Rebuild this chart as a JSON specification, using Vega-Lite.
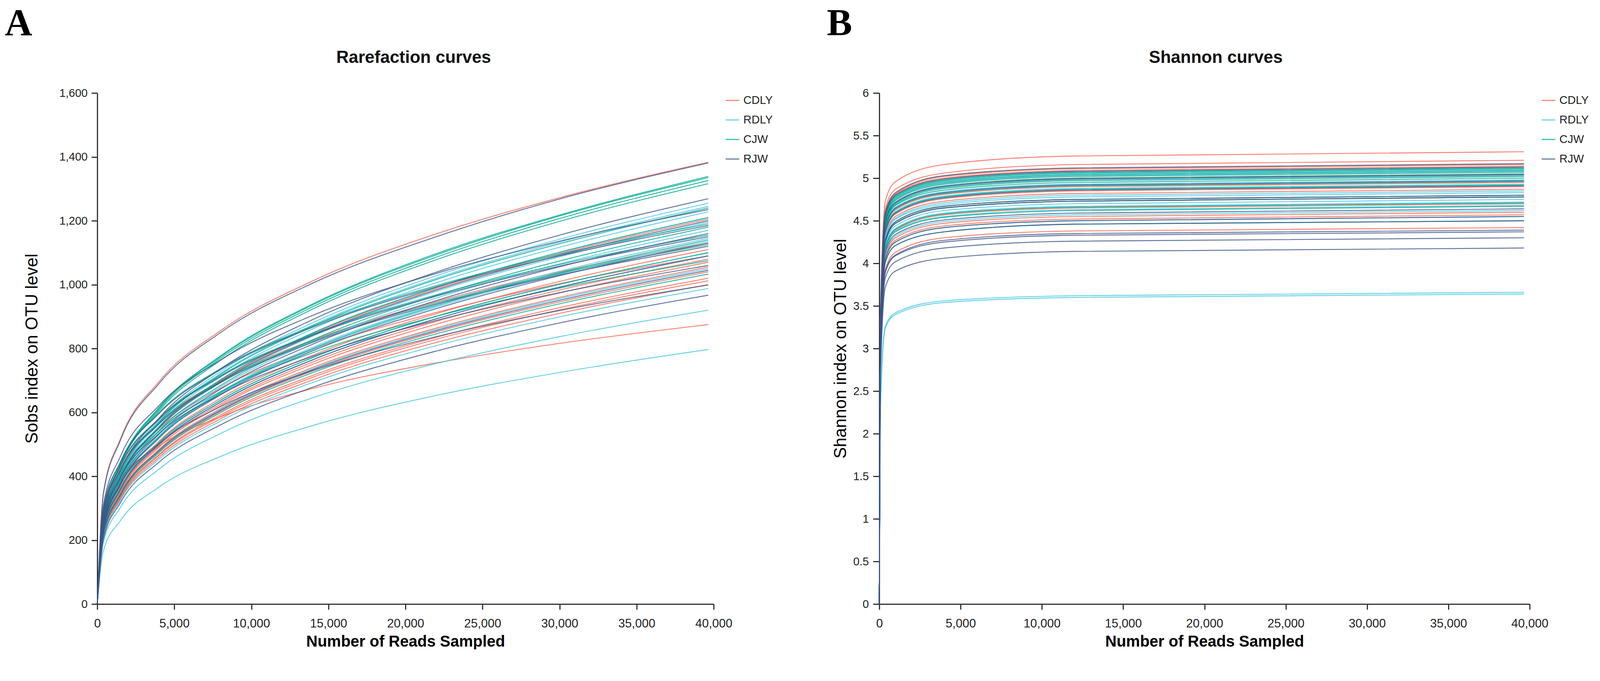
{
"$schema": "https://vega.github.io/schema/vega-lite/v6.json",
"background": "white",
"padding": {"left": 12, "top": 12, "right": 0, "bottom": 0},
"spacing": 137,
"config": {
  "view": {"stroke": null},
  "font": "Liberation Sans",
  "axis": {"domainColor": "#333", "domainWidth": 3, "tickColor": "#333", "tickWidth": 3, "labelColor": "#222", "labelFont": "Liberation Sans", "titleFont": "Liberation Sans", "titleColor": "#000", "grid": false},
  "legend": {"orient": "right", "offset": 29, "symbolType": "stroke", "symbolSize": 1225, "symbolStrokeWidth": 3, "symbolOpacity": 0.75, "labelFontSize": 29, "labelFont": "Liberation Sans", "labelColor": "#222", "rowPadding": 16, "labelOffset": 9, "padding": 0, "labelLimit": 200}
},
"resolve": {"scale": {"color": "independent"}, "legend": {"color": "independent"}},
"datasets": {
"rare": [
{"s":"C1","g":"CDLY","x":0,"y":0},{"s":"C1","g":"CDLY","x":400,"y":349},{"s":"C1","g":"CDLY","x":1500,"y":517},{"s":"C1","g":"CDLY","x":4000,"y":696},{"s":"C1","g":"CDLY","x":8000,"y":856},{"s":"C1","g":"CDLY","x":14000,"y":1012},{"s":"C1","g":"CDLY","x":22000,"y":1159},{"s":"C1","g":"CDLY","x":30000,"y":1272},{"s":"C1","g":"CDLY","x":39650,"y":1383},
{"s":"C2","g":"CDLY","x":0,"y":0},{"s":"C2","g":"CDLY","x":400,"y":253},{"s":"C2","g":"CDLY","x":1500,"y":395},{"s":"C2","g":"CDLY","x":4000,"y":553},{"s":"C2","g":"CDLY","x":8000,"y":699},{"s":"C2","g":"CDLY","x":14000,"y":846},{"s":"C2","g":"CDLY","x":22000,"y":987},{"s":"C2","g":"CDLY","x":30000,"y":1097},{"s":"C2","g":"CDLY","x":39650,"y":1205},
{"s":"C3","g":"CDLY","x":0,"y":0},{"s":"C3","g":"CDLY","x":400,"y":285},{"s":"C3","g":"CDLY","x":1500,"y":423},{"s":"C3","g":"CDLY","x":4000,"y":568},{"s":"C3","g":"CDLY","x":8000,"y":699},{"s":"C3","g":"CDLY","x":14000,"y":827},{"s":"C3","g":"CDLY","x":22000,"y":947},{"s":"C3","g":"CDLY","x":30000,"y":1040},{"s":"C3","g":"CDLY","x":39650,"y":1130},
{"s":"C4","g":"CDLY","x":0,"y":0},{"s":"C4","g":"CDLY","x":400,"y":233},{"s":"C4","g":"CDLY","x":1500,"y":364},{"s":"C4","g":"CDLY","x":4000,"y":509},{"s":"C4","g":"CDLY","x":8000,"y":644},{"s":"C4","g":"CDLY","x":14000,"y":779},{"s":"C4","g":"CDLY","x":22000,"y":909},{"s":"C4","g":"CDLY","x":30000,"y":1010},{"s":"C4","g":"CDLY","x":39650,"y":1110},
{"s":"C5","g":"CDLY","x":0,"y":0},{"s":"C5","g":"CDLY","x":400,"y":275},{"s":"C5","g":"CDLY","x":1500,"y":408},{"s":"C5","g":"CDLY","x":4000,"y":548},{"s":"C5","g":"CDLY","x":8000,"y":675},{"s":"C5","g":"CDLY","x":14000,"y":798},{"s":"C5","g":"CDLY","x":22000,"y":913},{"s":"C5","g":"CDLY","x":30000,"y":1003},{"s":"C5","g":"CDLY","x":39650,"y":1090},
{"s":"C6","g":"CDLY","x":0,"y":0},{"s":"C6","g":"CDLY","x":400,"y":227},{"s":"C6","g":"CDLY","x":1500,"y":354},{"s":"C6","g":"CDLY","x":4000,"y":496},{"s":"C6","g":"CDLY","x":8000,"y":626},{"s":"C6","g":"CDLY","x":14000,"y":758},{"s":"C6","g":"CDLY","x":22000,"y":885},{"s":"C6","g":"CDLY","x":30000,"y":983},{"s":"C6","g":"CDLY","x":39650,"y":1080},
{"s":"C7","g":"CDLY","x":0,"y":0},{"s":"C7","g":"CDLY","x":400,"y":225},{"s":"C7","g":"CDLY","x":1500,"y":351},{"s":"C7","g":"CDLY","x":4000,"y":491},{"s":"C7","g":"CDLY","x":8000,"y":621},{"s":"C7","g":"CDLY","x":14000,"y":751},{"s":"C7","g":"CDLY","x":22000,"y":876},{"s":"C7","g":"CDLY","x":30000,"y":974},{"s":"C7","g":"CDLY","x":39650,"y":1070},
{"s":"C8","g":"CDLY","x":0,"y":0},{"s":"C8","g":"CDLY","x":400,"y":222},{"s":"C8","g":"CDLY","x":1500,"y":346},{"s":"C8","g":"CDLY","x":4000,"y":484},{"s":"C8","g":"CDLY","x":8000,"y":612},{"s":"C8","g":"CDLY","x":14000,"y":741},{"s":"C8","g":"CDLY","x":22000,"y":864},{"s":"C8","g":"CDLY","x":30000,"y":960},{"s":"C8","g":"CDLY","x":39650,"y":1055},
{"s":"C9","g":"CDLY","x":0,"y":0},{"s":"C9","g":"CDLY","x":400,"y":218},{"s":"C9","g":"CDLY","x":1500,"y":341},{"s":"C9","g":"CDLY","x":4000,"y":477},{"s":"C9","g":"CDLY","x":8000,"y":603},{"s":"C9","g":"CDLY","x":14000,"y":730},{"s":"C9","g":"CDLY","x":22000,"y":852},{"s":"C9","g":"CDLY","x":30000,"y":946},{"s":"C9","g":"CDLY","x":39650,"y":1040},
{"s":"C10","g":"CDLY","x":0,"y":0},{"s":"C10","g":"CDLY","x":400,"y":214},{"s":"C10","g":"CDLY","x":1500,"y":335},{"s":"C10","g":"CDLY","x":4000,"y":468},{"s":"C10","g":"CDLY","x":8000,"y":592},{"s":"C10","g":"CDLY","x":14000,"y":716},{"s":"C10","g":"CDLY","x":22000,"y":835},{"s":"C10","g":"CDLY","x":30000,"y":928},{"s":"C10","g":"CDLY","x":39650,"y":1020},
{"s":"C11","g":"CDLY","x":0,"y":0},{"s":"C11","g":"CDLY","x":400,"y":213},{"s":"C11","g":"CDLY","x":1500,"y":332},{"s":"C11","g":"CDLY","x":4000,"y":465},{"s":"C11","g":"CDLY","x":8000,"y":587},{"s":"C11","g":"CDLY","x":14000,"y":710},{"s":"C11","g":"CDLY","x":22000,"y":829},{"s":"C11","g":"CDLY","x":30000,"y":921},{"s":"C11","g":"CDLY","x":39650,"y":1012},
{"s":"C12","g":"CDLY","x":0,"y":0},{"s":"C12","g":"CDLY","x":400,"y":210},{"s":"C12","g":"CDLY","x":1500,"y":328},{"s":"C12","g":"CDLY","x":4000,"y":459},{"s":"C12","g":"CDLY","x":8000,"y":580},{"s":"C12","g":"CDLY","x":14000,"y":702},{"s":"C12","g":"CDLY","x":22000,"y":819},{"s":"C12","g":"CDLY","x":30000,"y":910},{"s":"C12","g":"CDLY","x":39650,"y":1000},
{"s":"C13","g":"CDLY","x":0,"y":0},{"s":"C13","g":"CDLY","x":400,"y":277},{"s":"C13","g":"CDLY","x":1500,"y":386},{"s":"C13","g":"CDLY","x":4000,"y":494},{"s":"C13","g":"CDLY","x":8000,"y":586},{"s":"C13","g":"CDLY","x":14000,"y":675},{"s":"C13","g":"CDLY","x":22000,"y":755},{"s":"C13","g":"CDLY","x":30000,"y":816},{"s":"C13","g":"CDLY","x":39650,"y":875},
{"s":"R1","g":"RDLY","x":0,"y":0},{"s":"R1","g":"RDLY","x":400,"y":264},{"s":"R1","g":"RDLY","x":1500,"y":412},{"s":"R1","g":"RDLY","x":4000,"y":576},{"s":"R1","g":"RDLY","x":8000,"y":728},{"s":"R1","g":"RDLY","x":14000,"y":881},{"s":"R1","g":"RDLY","x":22000,"y":1028},{"s":"R1","g":"RDLY","x":30000,"y":1142},{"s":"R1","g":"RDLY","x":39650,"y":1255},
{"s":"R2","g":"RDLY","x":0,"y":0},{"s":"R2","g":"RDLY","x":400,"y":261},{"s":"R2","g":"RDLY","x":1500,"y":408},{"s":"R2","g":"RDLY","x":4000,"y":571},{"s":"R2","g":"RDLY","x":8000,"y":722},{"s":"R2","g":"RDLY","x":14000,"y":874},{"s":"R2","g":"RDLY","x":22000,"y":1020},{"s":"R2","g":"RDLY","x":30000,"y":1133},{"s":"R2","g":"RDLY","x":39650,"y":1245},
{"s":"R3","g":"RDLY","x":0,"y":0},{"s":"R3","g":"RDLY","x":400,"y":258},{"s":"R3","g":"RDLY","x":1500,"y":403},{"s":"R3","g":"RDLY","x":4000,"y":564},{"s":"R3","g":"RDLY","x":8000,"y":712},{"s":"R3","g":"RDLY","x":14000,"y":862},{"s":"R3","g":"RDLY","x":22000,"y":1006},{"s":"R3","g":"RDLY","x":30000,"y":1117},{"s":"R3","g":"RDLY","x":39650,"y":1228},
{"s":"R4","g":"RDLY","x":0,"y":0},{"s":"R4","g":"RDLY","x":400,"y":254},{"s":"R4","g":"RDLY","x":1500,"y":397},{"s":"R4","g":"RDLY","x":4000,"y":555},{"s":"R4","g":"RDLY","x":8000,"y":702},{"s":"R4","g":"RDLY","x":14000,"y":849},{"s":"R4","g":"RDLY","x":22000,"y":991},{"s":"R4","g":"RDLY","x":30000,"y":1101},{"s":"R4","g":"RDLY","x":39650,"y":1210},
{"s":"R5","g":"RDLY","x":0,"y":0},{"s":"R5","g":"RDLY","x":400,"y":251},{"s":"R5","g":"RDLY","x":1500,"y":392},{"s":"R5","g":"RDLY","x":4000,"y":549},{"s":"R5","g":"RDLY","x":8000,"y":693},{"s":"R5","g":"RDLY","x":14000,"y":839},{"s":"R5","g":"RDLY","x":22000,"y":979},{"s":"R5","g":"RDLY","x":30000,"y":1087},{"s":"R5","g":"RDLY","x":39650,"y":1195},
{"s":"R6","g":"RDLY","x":0,"y":0},{"s":"R6","g":"RDLY","x":400,"y":246},{"s":"R6","g":"RDLY","x":1500,"y":384},{"s":"R6","g":"RDLY","x":4000,"y":537},{"s":"R6","g":"RDLY","x":8000,"y":679},{"s":"R6","g":"RDLY","x":14000,"y":821},{"s":"R6","g":"RDLY","x":22000,"y":958},{"s":"R6","g":"RDLY","x":30000,"y":1065},{"s":"R6","g":"RDLY","x":39650,"y":1170},
{"s":"R7","g":"RDLY","x":0,"y":0},{"s":"R7","g":"RDLY","x":400,"y":240},{"s":"R7","g":"RDLY","x":1500,"y":376},{"s":"R7","g":"RDLY","x":4000,"y":526},{"s":"R7","g":"RDLY","x":8000,"y":664},{"s":"R7","g":"RDLY","x":14000,"y":804},{"s":"R7","g":"RDLY","x":22000,"y":938},{"s":"R7","g":"RDLY","x":30000,"y":1042},{"s":"R7","g":"RDLY","x":39650,"y":1145},
{"s":"R8","g":"RDLY","x":0,"y":0},{"s":"R8","g":"RDLY","x":400,"y":238},{"s":"R8","g":"RDLY","x":1500,"y":372},{"s":"R8","g":"RDLY","x":4000,"y":521},{"s":"R8","g":"RDLY","x":8000,"y":658},{"s":"R8","g":"RDLY","x":14000,"y":797},{"s":"R8","g":"RDLY","x":22000,"y":930},{"s":"R8","g":"RDLY","x":30000,"y":1033},{"s":"R8","g":"RDLY","x":39650,"y":1135},
{"s":"R9","g":"RDLY","x":0,"y":0},{"s":"R9","g":"RDLY","x":400,"y":231},{"s":"R9","g":"RDLY","x":1500,"y":361},{"s":"R9","g":"RDLY","x":4000,"y":505},{"s":"R9","g":"RDLY","x":8000,"y":638},{"s":"R9","g":"RDLY","x":14000,"y":772},{"s":"R9","g":"RDLY","x":22000,"y":901},{"s":"R9","g":"RDLY","x":30000,"y":1001},{"s":"R9","g":"RDLY","x":39650,"y":1100},
{"s":"R10","g":"RDLY","x":0,"y":0},{"s":"R10","g":"RDLY","x":400,"y":229},{"s":"R10","g":"RDLY","x":1500,"y":358},{"s":"R10","g":"RDLY","x":4000,"y":500},{"s":"R10","g":"RDLY","x":8000,"y":632},{"s":"R10","g":"RDLY","x":14000,"y":765},{"s":"R10","g":"RDLY","x":22000,"y":893},{"s":"R10","g":"RDLY","x":30000,"y":992},{"s":"R10","g":"RDLY","x":39650,"y":1090},
{"s":"R11","g":"RDLY","x":0,"y":0},{"s":"R11","g":"RDLY","x":400,"y":221},{"s":"R11","g":"RDLY","x":1500,"y":344},{"s":"R11","g":"RDLY","x":4000,"y":482},{"s":"R11","g":"RDLY","x":8000,"y":609},{"s":"R11","g":"RDLY","x":14000,"y":737},{"s":"R11","g":"RDLY","x":22000,"y":860},{"s":"R11","g":"RDLY","x":30000,"y":956},{"s":"R11","g":"RDLY","x":39650,"y":1050},
{"s":"R12","g":"RDLY","x":0,"y":0},{"s":"R12","g":"RDLY","x":400,"y":207},{"s":"R12","g":"RDLY","x":1500,"y":324},{"s":"R12","g":"RDLY","x":4000,"y":453},{"s":"R12","g":"RDLY","x":8000,"y":573},{"s":"R12","g":"RDLY","x":14000,"y":694},{"s":"R12","g":"RDLY","x":22000,"y":809},{"s":"R12","g":"RDLY","x":30000,"y":899},{"s":"R12","g":"RDLY","x":39650,"y":988},
{"s":"R13","g":"RDLY","x":0,"y":0},{"s":"R13","g":"RDLY","x":400,"y":193},{"s":"R13","g":"RDLY","x":1500,"y":302},{"s":"R13","g":"RDLY","x":4000,"y":422},{"s":"R13","g":"RDLY","x":8000,"y":534},{"s":"R13","g":"RDLY","x":14000,"y":646},{"s":"R13","g":"RDLY","x":22000,"y":753},{"s":"R13","g":"RDLY","x":30000,"y":837},{"s":"R13","g":"RDLY","x":39650,"y":920},
{"s":"R14","g":"RDLY","x":0,"y":0},{"s":"R14","g":"RDLY","x":400,"y":167},{"s":"R14","g":"RDLY","x":1500,"y":261},{"s":"R14","g":"RDLY","x":4000,"y":366},{"s":"R14","g":"RDLY","x":8000,"y":462},{"s":"R14","g":"RDLY","x":14000,"y":559},{"s":"R14","g":"RDLY","x":22000,"y":653},{"s":"R14","g":"RDLY","x":30000,"y":725},{"s":"R14","g":"RDLY","x":39650,"y":797},
{"s":"J1","g":"CJW","x":0,"y":0},{"s":"J1","g":"CJW","x":400,"y":281},{"s":"J1","g":"CJW","x":1500,"y":439},{"s":"J1","g":"CJW","x":4000,"y":615},{"s":"J1","g":"CJW","x":8000,"y":777},{"s":"J1","g":"CJW","x":14000,"y":940},{"s":"J1","g":"CJW","x":22000,"y":1097},{"s":"J1","g":"CJW","x":30000,"y":1218},{"s":"J1","g":"CJW","x":39650,"y":1339},
{"s":"J2","g":"CJW","x":0,"y":0},{"s":"J2","g":"CJW","x":400,"y":280},{"s":"J2","g":"CJW","x":1500,"y":438},{"s":"J2","g":"CJW","x":4000,"y":613},{"s":"J2","g":"CJW","x":8000,"y":774},{"s":"J2","g":"CJW","x":14000,"y":937},{"s":"J2","g":"CJW","x":22000,"y":1093},{"s":"J2","g":"CJW","x":30000,"y":1215},{"s":"J2","g":"CJW","x":39650,"y":1335},
{"s":"J3","g":"CJW","x":0,"y":0},{"s":"J3","g":"CJW","x":400,"y":278},{"s":"J3","g":"CJW","x":1500,"y":435},{"s":"J3","g":"CJW","x":4000,"y":609},{"s":"J3","g":"CJW","x":8000,"y":769},{"s":"J3","g":"CJW","x":14000,"y":931},{"s":"J3","g":"CJW","x":22000,"y":1086},{"s":"J3","g":"CJW","x":30000,"y":1207},{"s":"J3","g":"CJW","x":39650,"y":1326},
{"s":"J4","g":"CJW","x":0,"y":0},{"s":"J4","g":"CJW","x":400,"y":276},{"s":"J4","g":"CJW","x":1500,"y":432},{"s":"J4","g":"CJW","x":4000,"y":604},{"s":"J4","g":"CJW","x":8000,"y":763},{"s":"J4","g":"CJW","x":14000,"y":924},{"s":"J4","g":"CJW","x":22000,"y":1078},{"s":"J4","g":"CJW","x":30000,"y":1198},{"s":"J4","g":"CJW","x":39650,"y":1316},
{"s":"J5","g":"CJW","x":0,"y":0},{"s":"J5","g":"CJW","x":400,"y":260},{"s":"J5","g":"CJW","x":1500,"y":407},{"s":"J5","g":"CJW","x":4000,"y":569},{"s":"J5","g":"CJW","x":8000,"y":719},{"s":"J5","g":"CJW","x":14000,"y":870},{"s":"J5","g":"CJW","x":22000,"y":1016},{"s":"J5","g":"CJW","x":30000,"y":1128},{"s":"J5","g":"CJW","x":39650,"y":1240},
{"s":"J6","g":"CJW","x":0,"y":0},{"s":"J6","g":"CJW","x":400,"y":254},{"s":"J6","g":"CJW","x":1500,"y":397},{"s":"J6","g":"CJW","x":4000,"y":555},{"s":"J6","g":"CJW","x":8000,"y":702},{"s":"J6","g":"CJW","x":14000,"y":849},{"s":"J6","g":"CJW","x":22000,"y":991},{"s":"J6","g":"CJW","x":30000,"y":1101},{"s":"J6","g":"CJW","x":39650,"y":1210},
{"s":"J7","g":"CJW","x":0,"y":0},{"s":"J7","g":"CJW","x":400,"y":300},{"s":"J7","g":"CJW","x":1500,"y":445},{"s":"J7","g":"CJW","x":4000,"y":599},{"s":"J7","g":"CJW","x":8000,"y":737},{"s":"J7","g":"CJW","x":14000,"y":871},{"s":"J7","g":"CJW","x":22000,"y":997},{"s":"J7","g":"CJW","x":30000,"y":1095},{"s":"J7","g":"CJW","x":39650,"y":1190},
{"s":"J8","g":"CJW","x":0,"y":0},{"s":"J8","g":"CJW","x":400,"y":248},{"s":"J8","g":"CJW","x":1500,"y":387},{"s":"J8","g":"CJW","x":4000,"y":542},{"s":"J8","g":"CJW","x":8000,"y":684},{"s":"J8","g":"CJW","x":14000,"y":828},{"s":"J8","g":"CJW","x":22000,"y":966},{"s":"J8","g":"CJW","x":30000,"y":1074},{"s":"J8","g":"CJW","x":39650,"y":1180},
{"s":"J9","g":"CJW","x":0,"y":0},{"s":"J9","g":"CJW","x":400,"y":291},{"s":"J9","g":"CJW","x":1500,"y":432},{"s":"J9","g":"CJW","x":4000,"y":581},{"s":"J9","g":"CJW","x":8000,"y":715},{"s":"J9","g":"CJW","x":14000,"y":845},{"s":"J9","g":"CJW","x":22000,"y":968},{"s":"J9","g":"CJW","x":30000,"y":1063},{"s":"J9","g":"CJW","x":39650,"y":1155},
{"s":"J10","g":"CJW","x":0,"y":0},{"s":"J10","g":"CJW","x":400,"y":239},{"s":"J10","g":"CJW","x":1500,"y":374},{"s":"J10","g":"CJW","x":4000,"y":523},{"s":"J10","g":"CJW","x":8000,"y":661},{"s":"J10","g":"CJW","x":14000,"y":800},{"s":"J10","g":"CJW","x":22000,"y":934},{"s":"J10","g":"CJW","x":30000,"y":1037},{"s":"J10","g":"CJW","x":39650,"y":1140},
{"s":"J11","g":"CJW","x":0,"y":0},{"s":"J11","g":"CJW","x":400,"y":284},{"s":"J11","g":"CJW","x":1500,"y":421},{"s":"J11","g":"CJW","x":4000,"y":566},{"s":"J11","g":"CJW","x":8000,"y":696},{"s":"J11","g":"CJW","x":14000,"y":824},{"s":"J11","g":"CJW","x":22000,"y":943},{"s":"J11","g":"CJW","x":30000,"y":1035},{"s":"J11","g":"CJW","x":39650,"y":1125},
{"s":"J12","g":"CJW","x":0,"y":0},{"s":"J12","g":"CJW","x":400,"y":231},{"s":"J12","g":"CJW","x":1500,"y":361},{"s":"J12","g":"CJW","x":4000,"y":505},{"s":"J12","g":"CJW","x":8000,"y":638},{"s":"J12","g":"CJW","x":14000,"y":772},{"s":"J12","g":"CJW","x":22000,"y":901},{"s":"J12","g":"CJW","x":30000,"y":1001},{"s":"J12","g":"CJW","x":39650,"y":1100},
{"s":"J13","g":"CJW","x":0,"y":0},{"s":"J13","g":"CJW","x":400,"y":271},{"s":"J13","g":"CJW","x":1500,"y":402},{"s":"J13","g":"CJW","x":4000,"y":541},{"s":"J13","g":"CJW","x":8000,"y":665},{"s":"J13","g":"CJW","x":14000,"y":787},{"s":"J13","g":"CJW","x":22000,"y":901},{"s":"J13","g":"CJW","x":30000,"y":989},{"s":"J13","g":"CJW","x":39650,"y":1075},
{"s":"J14","g":"CJW","x":0,"y":0},{"s":"J14","g":"CJW","x":400,"y":217},{"s":"J14","g":"CJW","x":1500,"y":339},{"s":"J14","g":"CJW","x":4000,"y":474},{"s":"J14","g":"CJW","x":8000,"y":599},{"s":"J14","g":"CJW","x":14000,"y":725},{"s":"J14","g":"CJW","x":22000,"y":846},{"s":"J14","g":"CJW","x":30000,"y":940},{"s":"J14","g":"CJW","x":39650,"y":1033},
{"s":"W1","g":"RJW","x":0,"y":0},{"s":"W1","g":"RJW","x":400,"y":345},{"s":"W1","g":"RJW","x":1500,"y":512},{"s":"W1","g":"RJW","x":4000,"y":690},{"s":"W1","g":"RJW","x":8000,"y":850},{"s":"W1","g":"RJW","x":14000,"y":1005},{"s":"W1","g":"RJW","x":22000,"y":1150},{"s":"W1","g":"RJW","x":30000,"y":1268},{"s":"W1","g":"RJW","x":39650,"y":1381},
{"s":"W2","g":"RJW","x":0,"y":0},{"s":"W2","g":"RJW","x":400,"y":266},{"s":"W2","g":"RJW","x":1500,"y":416},{"s":"W2","g":"RJW","x":4000,"y":582},{"s":"W2","g":"RJW","x":8000,"y":736},{"s":"W2","g":"RJW","x":14000,"y":891},{"s":"W2","g":"RJW","x":22000,"y":1039},{"s":"W2","g":"RJW","x":30000,"y":1155},{"s":"W2","g":"RJW","x":39650,"y":1269},
{"s":"W3","g":"RJW","x":0,"y":0},{"s":"W3","g":"RJW","x":400,"y":311},{"s":"W3","g":"RJW","x":1500,"y":462},{"s":"W3","g":"RJW","x":4000,"y":621},{"s":"W3","g":"RJW","x":8000,"y":764},{"s":"W3","g":"RJW","x":14000,"y":904},{"s":"W3","g":"RJW","x":22000,"y":1035},{"s":"W3","g":"RJW","x":30000,"y":1136},{"s":"W3","g":"RJW","x":39650,"y":1235},
{"s":"W4","g":"RJW","x":0,"y":0},{"s":"W4","g":"RJW","x":400,"y":252},{"s":"W4","g":"RJW","x":1500,"y":394},{"s":"W4","g":"RJW","x":4000,"y":551},{"s":"W4","g":"RJW","x":8000,"y":696},{"s":"W4","g":"RJW","x":14000,"y":842},{"s":"W4","g":"RJW","x":22000,"y":983},{"s":"W4","g":"RJW","x":30000,"y":1092},{"s":"W4","g":"RJW","x":39650,"y":1200},
{"s":"W5","g":"RJW","x":0,"y":0},{"s":"W5","g":"RJW","x":400,"y":299},{"s":"W5","g":"RJW","x":1500,"y":443},{"s":"W5","g":"RJW","x":4000,"y":596},{"s":"W5","g":"RJW","x":8000,"y":734},{"s":"W5","g":"RJW","x":14000,"y":867},{"s":"W5","g":"RJW","x":22000,"y":993},{"s":"W5","g":"RJW","x":30000,"y":1090},{"s":"W5","g":"RJW","x":39650,"y":1185},
{"s":"W6","g":"RJW","x":0,"y":0},{"s":"W6","g":"RJW","x":400,"y":244},{"s":"W6","g":"RJW","x":1500,"y":380},{"s":"W6","g":"RJW","x":4000,"y":532},{"s":"W6","g":"RJW","x":8000,"y":673},{"s":"W6","g":"RJW","x":14000,"y":814},{"s":"W6","g":"RJW","x":22000,"y":950},{"s":"W6","g":"RJW","x":30000,"y":1056},{"s":"W6","g":"RJW","x":39650,"y":1160},
{"s":"W7","g":"RJW","x":0,"y":0},{"s":"W7","g":"RJW","x":400,"y":290},{"s":"W7","g":"RJW","x":1500,"y":430},{"s":"W7","g":"RJW","x":4000,"y":578},{"s":"W7","g":"RJW","x":8000,"y":712},{"s":"W7","g":"RJW","x":14000,"y":842},{"s":"W7","g":"RJW","x":22000,"y":964},{"s":"W7","g":"RJW","x":30000,"y":1058},{"s":"W7","g":"RJW","x":39650,"y":1150},
{"s":"W8","g":"RJW","x":0,"y":0},{"s":"W8","g":"RJW","x":400,"y":237},{"s":"W8","g":"RJW","x":1500,"y":371},{"s":"W8","g":"RJW","x":4000,"y":519},{"s":"W8","g":"RJW","x":8000,"y":655},{"s":"W8","g":"RJW","x":14000,"y":793},{"s":"W8","g":"RJW","x":22000,"y":925},{"s":"W8","g":"RJW","x":30000,"y":1028},{"s":"W8","g":"RJW","x":39650,"y":1130},
{"s":"W9","g":"RJW","x":0,"y":0},{"s":"W9","g":"RJW","x":400,"y":282},{"s":"W9","g":"RJW","x":1500,"y":419},{"s":"W9","g":"RJW","x":4000,"y":563},{"s":"W9","g":"RJW","x":8000,"y":693},{"s":"W9","g":"RJW","x":14000,"y":820},{"s":"W9","g":"RJW","x":22000,"y":939},{"s":"W9","g":"RJW","x":30000,"y":1030},{"s":"W9","g":"RJW","x":39650,"y":1120},
{"s":"W10","g":"RJW","x":0,"y":0},{"s":"W10","g":"RJW","x":400,"y":229},{"s":"W10","g":"RJW","x":1500,"y":358},{"s":"W10","g":"RJW","x":4000,"y":500},{"s":"W10","g":"RJW","x":8000,"y":632},{"s":"W10","g":"RJW","x":14000,"y":765},{"s":"W10","g":"RJW","x":22000,"y":893},{"s":"W10","g":"RJW","x":30000,"y":992},{"s":"W10","g":"RJW","x":39650,"y":1090},
{"s":"W11","g":"RJW","x":0,"y":0},{"s":"W11","g":"RJW","x":400,"y":267},{"s":"W11","g":"RJW","x":1500,"y":396},{"s":"W11","g":"RJW","x":4000,"y":533},{"s":"W11","g":"RJW","x":8000,"y":656},{"s":"W11","g":"RJW","x":14000,"y":776},{"s":"W11","g":"RJW","x":22000,"y":888},{"s":"W11","g":"RJW","x":30000,"y":975},{"s":"W11","g":"RJW","x":39650,"y":1060},
{"s":"W12","g":"RJW","x":0,"y":0},{"s":"W12","g":"RJW","x":400,"y":219},{"s":"W12","g":"RJW","x":1500,"y":343},{"s":"W12","g":"RJW","x":4000,"y":480},{"s":"W12","g":"RJW","x":8000,"y":606},{"s":"W12","g":"RJW","x":14000,"y":734},{"s":"W12","g":"RJW","x":22000,"y":856},{"s":"W12","g":"RJW","x":30000,"y":951},{"s":"W12","g":"RJW","x":39650,"y":1045},
{"s":"W13","g":"RJW","x":0,"y":0},{"s":"W13","g":"RJW","x":400,"y":252},{"s":"W13","g":"RJW","x":1500,"y":374},{"s":"W13","g":"RJW","x":4000,"y":502},{"s":"W13","g":"RJW","x":8000,"y":618},{"s":"W13","g":"RJW","x":14000,"y":731},{"s":"W13","g":"RJW","x":22000,"y":837},{"s":"W13","g":"RJW","x":30000,"y":919},{"s":"W13","g":"RJW","x":39650,"y":999},
{"s":"W14","g":"RJW","x":0,"y":0},{"s":"W14","g":"RJW","x":400,"y":203},{"s":"W14","g":"RJW","x":1500,"y":317},{"s":"W14","g":"RJW","x":4000,"y":444},{"s":"W14","g":"RJW","x":8000,"y":561},{"s":"W14","g":"RJW","x":14000,"y":679},{"s":"W14","g":"RJW","x":22000,"y":792},{"s":"W14","g":"RJW","x":30000,"y":880},{"s":"W14","g":"RJW","x":39650,"y":967}
],
"shan": [
{"s":"C1","g":"CDLY","x":0,"y":0},{"s":"C1","g":"CDLY","x":60,"y":3.29},{"s":"C1","g":"CDLY","x":370,"y":4.73},{"s":"C1","g":"CDLY","x":1000,"y":4.96},{"s":"C1","g":"CDLY","x":4000,"y":5.16},{"s":"C1","g":"CDLY","x":12000,"y":5.26},{"s":"C1","g":"CDLY","x":39650,"y":5.31},
{"s":"C2","g":"CDLY","x":0,"y":0},{"s":"C2","g":"CDLY","x":60,"y":3.23},{"s":"C2","g":"CDLY","x":370,"y":4.64},{"s":"C2","g":"CDLY","x":1000,"y":4.87},{"s":"C2","g":"CDLY","x":4000,"y":5.06},{"s":"C2","g":"CDLY","x":12000,"y":5.16},{"s":"C2","g":"CDLY","x":39650,"y":5.21},
{"s":"C3","g":"CDLY","x":0,"y":0},{"s":"C3","g":"CDLY","x":60,"y":3.20},{"s":"C3","g":"CDLY","x":370,"y":4.59},{"s":"C3","g":"CDLY","x":1000,"y":4.82},{"s":"C3","g":"CDLY","x":4000,"y":5.02},{"s":"C3","g":"CDLY","x":12000,"y":5.11},{"s":"C3","g":"CDLY","x":39650,"y":5.16},
{"s":"C4","g":"CDLY","x":0,"y":0},{"s":"C4","g":"CDLY","x":60,"y":3.19},{"s":"C4","g":"CDLY","x":370,"y":4.57},{"s":"C4","g":"CDLY","x":1000,"y":4.81},{"s":"C4","g":"CDLY","x":4000,"y":5.00},{"s":"C4","g":"CDLY","x":12000,"y":5.09},{"s":"C4","g":"CDLY","x":39650,"y":5.14},
{"s":"C5","g":"CDLY","x":0,"y":0},{"s":"C5","g":"CDLY","x":60,"y":3.13},{"s":"C5","g":"CDLY","x":370,"y":4.49},{"s":"C5","g":"CDLY","x":1000,"y":4.72},{"s":"C5","g":"CDLY","x":4000,"y":4.91},{"s":"C5","g":"CDLY","x":12000,"y":5.00},{"s":"C5","g":"CDLY","x":39650,"y":5.05},
{"s":"C6","g":"CDLY","x":0,"y":0},{"s":"C6","g":"CDLY","x":60,"y":3.07},{"s":"C6","g":"CDLY","x":370,"y":4.41},{"s":"C6","g":"CDLY","x":1000,"y":4.63},{"s":"C6","g":"CDLY","x":4000,"y":4.81},{"s":"C6","g":"CDLY","x":12000,"y":4.90},{"s":"C6","g":"CDLY","x":39650,"y":4.95},
{"s":"C7","g":"CDLY","x":0,"y":0},{"s":"C7","g":"CDLY","x":60,"y":3.04},{"s":"C7","g":"CDLY","x":370,"y":4.36},{"s":"C7","g":"CDLY","x":1000,"y":4.58},{"s":"C7","g":"CDLY","x":4000,"y":4.76},{"s":"C7","g":"CDLY","x":12000,"y":4.85},{"s":"C7","g":"CDLY","x":39650,"y":4.90},
{"s":"C8","g":"CDLY","x":0,"y":0},{"s":"C8","g":"CDLY","x":60,"y":3.02},{"s":"C8","g":"CDLY","x":370,"y":4.33},{"s":"C8","g":"CDLY","x":1000,"y":4.55},{"s":"C8","g":"CDLY","x":4000,"y":4.73},{"s":"C8","g":"CDLY","x":12000,"y":4.82},{"s":"C8","g":"CDLY","x":39650,"y":4.87},
{"s":"C9","g":"CDLY","x":0,"y":0},{"s":"C9","g":"CDLY","x":60,"y":2.96},{"s":"C9","g":"CDLY","x":370,"y":4.25},{"s":"C9","g":"CDLY","x":1000,"y":4.47},{"s":"C9","g":"CDLY","x":4000,"y":4.65},{"s":"C9","g":"CDLY","x":12000,"y":4.73},{"s":"C9","g":"CDLY","x":39650,"y":4.78},
{"s":"C10","g":"CDLY","x":0,"y":0},{"s":"C10","g":"CDLY","x":60,"y":2.91},{"s":"C10","g":"CDLY","x":370,"y":4.18},{"s":"C10","g":"CDLY","x":1000,"y":4.39},{"s":"C10","g":"CDLY","x":4000,"y":4.57},{"s":"C10","g":"CDLY","x":12000,"y":4.65},{"s":"C10","g":"CDLY","x":39650,"y":4.70},
{"s":"C11","g":"CDLY","x":0,"y":0},{"s":"C11","g":"CDLY","x":60,"y":2.85},{"s":"C11","g":"CDLY","x":370,"y":4.09},{"s":"C11","g":"CDLY","x":1000,"y":4.30},{"s":"C11","g":"CDLY","x":4000,"y":4.47},{"s":"C11","g":"CDLY","x":12000,"y":4.55},{"s":"C11","g":"CDLY","x":39650,"y":4.60},
{"s":"C12","g":"CDLY","x":0,"y":0},{"s":"C12","g":"CDLY","x":60,"y":2.83},{"s":"C12","g":"CDLY","x":370,"y":4.07},{"s":"C12","g":"CDLY","x":1000,"y":4.27},{"s":"C12","g":"CDLY","x":4000,"y":4.44},{"s":"C12","g":"CDLY","x":12000,"y":4.52},{"s":"C12","g":"CDLY","x":39650,"y":4.57},
{"s":"C13","g":"CDLY","x":0,"y":0},{"s":"C13","g":"CDLY","x":60,"y":2.74},{"s":"C13","g":"CDLY","x":370,"y":3.93},{"s":"C13","g":"CDLY","x":1000,"y":4.13},{"s":"C13","g":"CDLY","x":4000,"y":4.30},{"s":"C13","g":"CDLY","x":12000,"y":4.38},{"s":"C13","g":"CDLY","x":39650,"y":4.42},
{"s":"R1","g":"RDLY","x":0,"y":0},{"s":"R1","g":"RDLY","x":60,"y":3.16},{"s":"R1","g":"RDLY","x":370,"y":4.54},{"s":"R1","g":"RDLY","x":1000,"y":4.77},{"s":"R1","g":"RDLY","x":4000,"y":4.96},{"s":"R1","g":"RDLY","x":12000,"y":5.05},{"s":"R1","g":"RDLY","x":39650,"y":5.10},
{"s":"R2","g":"RDLY","x":0,"y":0},{"s":"R2","g":"RDLY","x":60,"y":3.15},{"s":"R2","g":"RDLY","x":370,"y":4.52},{"s":"R2","g":"RDLY","x":1000,"y":4.75},{"s":"R2","g":"RDLY","x":4000,"y":4.94},{"s":"R2","g":"RDLY","x":12000,"y":5.03},{"s":"R2","g":"RDLY","x":39650,"y":5.08},
{"s":"R3","g":"RDLY","x":0,"y":0},{"s":"R3","g":"RDLY","x":60,"y":3.12},{"s":"R3","g":"RDLY","x":370,"y":4.48},{"s":"R3","g":"RDLY","x":1000,"y":4.70},{"s":"R3","g":"RDLY","x":4000,"y":4.89},{"s":"R3","g":"RDLY","x":12000,"y":4.98},{"s":"R3","g":"RDLY","x":39650,"y":5.03},
{"s":"R4","g":"RDLY","x":0,"y":0},{"s":"R4","g":"RDLY","x":60,"y":3.09},{"s":"R4","g":"RDLY","x":370,"y":4.43},{"s":"R4","g":"RDLY","x":1000,"y":4.66},{"s":"R4","g":"RDLY","x":4000,"y":4.84},{"s":"R4","g":"RDLY","x":12000,"y":4.93},{"s":"R4","g":"RDLY","x":39650,"y":4.98},
{"s":"R5","g":"RDLY","x":0,"y":0},{"s":"R5","g":"RDLY","x":60,"y":3.06},{"s":"R5","g":"RDLY","x":370,"y":4.39},{"s":"R5","g":"RDLY","x":1000,"y":4.61},{"s":"R5","g":"RDLY","x":4000,"y":4.79},{"s":"R5","g":"RDLY","x":12000,"y":4.88},{"s":"R5","g":"RDLY","x":39650,"y":4.93},
{"s":"R6","g":"RDLY","x":0,"y":0},{"s":"R6","g":"RDLY","x":60,"y":3.01},{"s":"R6","g":"RDLY","x":370,"y":4.32},{"s":"R6","g":"RDLY","x":1000,"y":4.53},{"s":"R6","g":"RDLY","x":4000,"y":4.71},{"s":"R6","g":"RDLY","x":12000,"y":4.80},{"s":"R6","g":"RDLY","x":39650,"y":4.85},
{"s":"R7","g":"RDLY","x":0,"y":0},{"s":"R7","g":"RDLY","x":60,"y":2.99},{"s":"R7","g":"RDLY","x":370,"y":4.30},{"s":"R7","g":"RDLY","x":1000,"y":4.52},{"s":"R7","g":"RDLY","x":4000,"y":4.69},{"s":"R7","g":"RDLY","x":12000,"y":4.78},{"s":"R7","g":"RDLY","x":39650,"y":4.83},
{"s":"R8","g":"RDLY","x":0,"y":0},{"s":"R8","g":"RDLY","x":60,"y":2.95},{"s":"R8","g":"RDLY","x":370,"y":4.23},{"s":"R8","g":"RDLY","x":1000,"y":4.44},{"s":"R8","g":"RDLY","x":4000,"y":4.62},{"s":"R8","g":"RDLY","x":12000,"y":4.70},{"s":"R8","g":"RDLY","x":39650,"y":4.75},
{"s":"R9","g":"RDLY","x":0,"y":0},{"s":"R9","g":"RDLY","x":60,"y":2.93},{"s":"R9","g":"RDLY","x":370,"y":4.20},{"s":"R9","g":"RDLY","x":1000,"y":4.41},{"s":"R9","g":"RDLY","x":4000,"y":4.59},{"s":"R9","g":"RDLY","x":12000,"y":4.67},{"s":"R9","g":"RDLY","x":39650,"y":4.72},
{"s":"R10","g":"RDLY","x":0,"y":0},{"s":"R10","g":"RDLY","x":60,"y":2.90},{"s":"R10","g":"RDLY","x":370,"y":4.17},{"s":"R10","g":"RDLY","x":1000,"y":4.38},{"s":"R10","g":"RDLY","x":4000,"y":4.55},{"s":"R10","g":"RDLY","x":12000,"y":4.63},{"s":"R10","g":"RDLY","x":39650,"y":4.68},
{"s":"R11","g":"RDLY","x":0,"y":0},{"s":"R11","g":"RDLY","x":60,"y":2.86},{"s":"R11","g":"RDLY","x":370,"y":4.11},{"s":"R11","g":"RDLY","x":1000,"y":4.32},{"s":"R11","g":"RDLY","x":4000,"y":4.49},{"s":"R11","g":"RDLY","x":12000,"y":4.57},{"s":"R11","g":"RDLY","x":39650,"y":4.62},
{"s":"R12","g":"RDLY","x":0,"y":0},{"s":"R12","g":"RDLY","x":60,"y":2.82},{"s":"R12","g":"RDLY","x":370,"y":4.05},{"s":"R12","g":"RDLY","x":1000,"y":4.25},{"s":"R12","g":"RDLY","x":4000,"y":4.42},{"s":"R12","g":"RDLY","x":12000,"y":4.50},{"s":"R12","g":"RDLY","x":39650,"y":4.55},
{"s":"R13","g":"RDLY","x":0,"y":0},{"s":"R13","g":"RDLY","x":60,"y":2.27},{"s":"R13","g":"RDLY","x":370,"y":3.26},{"s":"R13","g":"RDLY","x":1000,"y":3.42},{"s":"R13","g":"RDLY","x":4000,"y":3.56},{"s":"R13","g":"RDLY","x":12000,"y":3.62},{"s":"R13","g":"RDLY","x":39650,"y":3.66},
{"s":"R14","g":"RDLY","x":0,"y":0},{"s":"R14","g":"RDLY","x":60,"y":2.26},{"s":"R14","g":"RDLY","x":370,"y":3.24},{"s":"R14","g":"RDLY","x":1000,"y":3.40},{"s":"R14","g":"RDLY","x":4000,"y":3.54},{"s":"R14","g":"RDLY","x":12000,"y":3.60},{"s":"R14","g":"RDLY","x":39650,"y":3.64},
{"s":"J1","g":"CJW","x":0,"y":0},{"s":"J1","g":"CJW","x":60,"y":3.17},{"s":"J1","g":"CJW","x":370,"y":4.56},{"s":"J1","g":"CJW","x":1000,"y":4.79},{"s":"J1","g":"CJW","x":4000,"y":4.98},{"s":"J1","g":"CJW","x":12000,"y":5.07},{"s":"J1","g":"CJW","x":39650,"y":5.12},
{"s":"J2","g":"CJW","x":0,"y":0},{"s":"J2","g":"CJW","x":60,"y":3.17},{"s":"J2","g":"CJW","x":370,"y":4.55},{"s":"J2","g":"CJW","x":1000,"y":4.78},{"s":"J2","g":"CJW","x":4000,"y":4.97},{"s":"J2","g":"CJW","x":12000,"y":5.06},{"s":"J2","g":"CJW","x":39650,"y":5.11},
{"s":"J3","g":"CJW","x":0,"y":0},{"s":"J3","g":"CJW","x":60,"y":3.16},{"s":"J3","g":"CJW","x":370,"y":4.53},{"s":"J3","g":"CJW","x":1000,"y":4.76},{"s":"J3","g":"CJW","x":4000,"y":4.95},{"s":"J3","g":"CJW","x":12000,"y":5.04},{"s":"J3","g":"CJW","x":39650,"y":5.09},
{"s":"J4","g":"CJW","x":0,"y":0},{"s":"J4","g":"CJW","x":60,"y":3.14},{"s":"J4","g":"CJW","x":370,"y":4.51},{"s":"J4","g":"CJW","x":1000,"y":4.74},{"s":"J4","g":"CJW","x":4000,"y":4.93},{"s":"J4","g":"CJW","x":12000,"y":5.02},{"s":"J4","g":"CJW","x":39650,"y":5.07},
{"s":"J5","g":"CJW","x":0,"y":0},{"s":"J5","g":"CJW","x":60,"y":3.13},{"s":"J5","g":"CJW","x":370,"y":4.49},{"s":"J5","g":"CJW","x":1000,"y":4.72},{"s":"J5","g":"CJW","x":4000,"y":4.91},{"s":"J5","g":"CJW","x":12000,"y":5.00},{"s":"J5","g":"CJW","x":39650,"y":5.05},
{"s":"J6","g":"CJW","x":0,"y":0},{"s":"J6","g":"CJW","x":60,"y":3.11},{"s":"J6","g":"CJW","x":370,"y":4.47},{"s":"J6","g":"CJW","x":1000,"y":4.69},{"s":"J6","g":"CJW","x":4000,"y":4.88},{"s":"J6","g":"CJW","x":12000,"y":4.97},{"s":"J6","g":"CJW","x":39650,"y":5.02},
{"s":"J7","g":"CJW","x":0,"y":0},{"s":"J7","g":"CJW","x":60,"y":3.10},{"s":"J7","g":"CJW","x":370,"y":4.45},{"s":"J7","g":"CJW","x":1000,"y":4.68},{"s":"J7","g":"CJW","x":4000,"y":4.86},{"s":"J7","g":"CJW","x":12000,"y":4.95},{"s":"J7","g":"CJW","x":39650,"y":5.00},
{"s":"J8","g":"CJW","x":0,"y":0},{"s":"J8","g":"CJW","x":60,"y":3.08},{"s":"J8","g":"CJW","x":370,"y":4.41},{"s":"J8","g":"CJW","x":1000,"y":4.64},{"s":"J8","g":"CJW","x":4000,"y":4.82},{"s":"J8","g":"CJW","x":12000,"y":4.91},{"s":"J8","g":"CJW","x":39650,"y":4.96},
{"s":"J9","g":"CJW","x":0,"y":0},{"s":"J9","g":"CJW","x":60,"y":3.05},{"s":"J9","g":"CJW","x":370,"y":4.38},{"s":"J9","g":"CJW","x":1000,"y":4.60},{"s":"J9","g":"CJW","x":4000,"y":4.78},{"s":"J9","g":"CJW","x":12000,"y":4.87},{"s":"J9","g":"CJW","x":39650,"y":4.92},
{"s":"J10","g":"CJW","x":0,"y":0},{"s":"J10","g":"CJW","x":60,"y":2.98},{"s":"J10","g":"CJW","x":370,"y":4.27},{"s":"J10","g":"CJW","x":1000,"y":4.49},{"s":"J10","g":"CJW","x":4000,"y":4.67},{"s":"J10","g":"CJW","x":12000,"y":4.75},{"s":"J10","g":"CJW","x":39650,"y":4.80},
{"s":"J11","g":"CJW","x":0,"y":0},{"s":"J11","g":"CJW","x":60,"y":2.96},{"s":"J11","g":"CJW","x":370,"y":4.25},{"s":"J11","g":"CJW","x":1000,"y":4.47},{"s":"J11","g":"CJW","x":4000,"y":4.65},{"s":"J11","g":"CJW","x":12000,"y":4.73},{"s":"J11","g":"CJW","x":39650,"y":4.78},
{"s":"J12","g":"CJW","x":0,"y":0},{"s":"J12","g":"CJW","x":60,"y":2.92},{"s":"J12","g":"CJW","x":370,"y":4.19},{"s":"J12","g":"CJW","x":1000,"y":4.40},{"s":"J12","g":"CJW","x":4000,"y":4.58},{"s":"J12","g":"CJW","x":12000,"y":4.66},{"s":"J12","g":"CJW","x":39650,"y":4.71},
{"s":"J13","g":"CJW","x":0,"y":0},{"s":"J13","g":"CJW","x":60,"y":2.90},{"s":"J13","g":"CJW","x":370,"y":4.16},{"s":"J13","g":"CJW","x":1000,"y":4.37},{"s":"J13","g":"CJW","x":4000,"y":4.54},{"s":"J13","g":"CJW","x":12000,"y":4.62},{"s":"J13","g":"CJW","x":39650,"y":4.67},
{"s":"J14","g":"CJW","x":0,"y":0},{"s":"J14","g":"CJW","x":60,"y":2.79},{"s":"J14","g":"CJW","x":370,"y":4.01},{"s":"J14","g":"CJW","x":1000,"y":4.21},{"s":"J14","g":"CJW","x":4000,"y":4.37},{"s":"J14","g":"CJW","x":12000,"y":4.46},{"s":"J14","g":"CJW","x":39650,"y":4.50},
{"s":"W1","g":"RJW","x":0,"y":0},{"s":"W1","g":"RJW","x":60,"y":3.21},{"s":"W1","g":"RJW","x":370,"y":4.60},{"s":"W1","g":"RJW","x":1000,"y":4.83},{"s":"W1","g":"RJW","x":4000,"y":5.03},{"s":"W1","g":"RJW","x":12000,"y":5.12},{"s":"W1","g":"RJW","x":39650,"y":5.17},
{"s":"W2","g":"RJW","x":0,"y":0},{"s":"W2","g":"RJW","x":60,"y":3.18},{"s":"W2","g":"RJW","x":370,"y":4.57},{"s":"W2","g":"RJW","x":1000,"y":4.80},{"s":"W2","g":"RJW","x":4000,"y":4.99},{"s":"W2","g":"RJW","x":12000,"y":5.08},{"s":"W2","g":"RJW","x":39650,"y":5.13},
{"s":"W3","g":"RJW","x":0,"y":0},{"s":"W3","g":"RJW","x":60,"y":3.12},{"s":"W3","g":"RJW","x":370,"y":4.49},{"s":"W3","g":"RJW","x":1000,"y":4.71},{"s":"W3","g":"RJW","x":4000,"y":4.90},{"s":"W3","g":"RJW","x":12000,"y":4.99},{"s":"W3","g":"RJW","x":39650,"y":5.04},
{"s":"W4","g":"RJW","x":0,"y":0},{"s":"W4","g":"RJW","x":60,"y":3.08},{"s":"W4","g":"RJW","x":370,"y":4.42},{"s":"W4","g":"RJW","x":1000,"y":4.65},{"s":"W4","g":"RJW","x":4000,"y":4.83},{"s":"W4","g":"RJW","x":12000,"y":4.92},{"s":"W4","g":"RJW","x":39650,"y":4.97},
{"s":"W5","g":"RJW","x":0,"y":0},{"s":"W5","g":"RJW","x":60,"y":3.04},{"s":"W5","g":"RJW","x":370,"y":4.37},{"s":"W5","g":"RJW","x":1000,"y":4.59},{"s":"W5","g":"RJW","x":4000,"y":4.77},{"s":"W5","g":"RJW","x":12000,"y":4.86},{"s":"W5","g":"RJW","x":39650,"y":4.91},
{"s":"W6","g":"RJW","x":0,"y":0},{"s":"W6","g":"RJW","x":60,"y":2.98},{"s":"W6","g":"RJW","x":370,"y":4.27},{"s":"W6","g":"RJW","x":1000,"y":4.49},{"s":"W6","g":"RJW","x":4000,"y":4.67},{"s":"W6","g":"RJW","x":12000,"y":4.75},{"s":"W6","g":"RJW","x":39650,"y":4.80},
{"s":"W7","g":"RJW","x":0,"y":0},{"s":"W7","g":"RJW","x":60,"y":2.96},{"s":"W7","g":"RJW","x":370,"y":4.25},{"s":"W7","g":"RJW","x":1000,"y":4.47},{"s":"W7","g":"RJW","x":4000,"y":4.65},{"s":"W7","g":"RJW","x":12000,"y":4.73},{"s":"W7","g":"RJW","x":39650,"y":4.78},
{"s":"W8","g":"RJW","x":0,"y":0},{"s":"W8","g":"RJW","x":60,"y":2.88},{"s":"W8","g":"RJW","x":370,"y":4.13},{"s":"W8","g":"RJW","x":1000,"y":4.34},{"s":"W8","g":"RJW","x":4000,"y":4.51},{"s":"W8","g":"RJW","x":12000,"y":4.59},{"s":"W8","g":"RJW","x":39650,"y":4.64},
{"s":"W9","g":"RJW","x":0,"y":0},{"s":"W9","g":"RJW","x":60,"y":2.82},{"s":"W9","g":"RJW","x":370,"y":4.05},{"s":"W9","g":"RJW","x":1000,"y":4.25},{"s":"W9","g":"RJW","x":4000,"y":4.42},{"s":"W9","g":"RJW","x":12000,"y":4.50},{"s":"W9","g":"RJW","x":39650,"y":4.55},
{"s":"W10","g":"RJW","x":0,"y":0},{"s":"W10","g":"RJW","x":60,"y":2.79},{"s":"W10","g":"RJW","x":370,"y":4.01},{"s":"W10","g":"RJW","x":1000,"y":4.21},{"s":"W10","g":"RJW","x":4000,"y":4.37},{"s":"W10","g":"RJW","x":12000,"y":4.46},{"s":"W10","g":"RJW","x":39650,"y":4.50},
{"s":"W11","g":"RJW","x":0,"y":0},{"s":"W11","g":"RJW","x":60,"y":2.72},{"s":"W11","g":"RJW","x":370,"y":3.91},{"s":"W11","g":"RJW","x":1000,"y":4.10},{"s":"W11","g":"RJW","x":4000,"y":4.27},{"s":"W11","g":"RJW","x":12000,"y":4.35},{"s":"W11","g":"RJW","x":39650,"y":4.39},
{"s":"W12","g":"RJW","x":0,"y":0},{"s":"W12","g":"RJW","x":60,"y":2.71},{"s":"W12","g":"RJW","x":370,"y":3.89},{"s":"W12","g":"RJW","x":1000,"y":4.09},{"s":"W12","g":"RJW","x":4000,"y":4.25},{"s":"W12","g":"RJW","x":12000,"y":4.33},{"s":"W12","g":"RJW","x":39650,"y":4.37},
{"s":"W13","g":"RJW","x":0,"y":0},{"s":"W13","g":"RJW","x":60,"y":2.67},{"s":"W13","g":"RJW","x":370,"y":3.83},{"s":"W13","g":"RJW","x":1000,"y":4.02},{"s":"W13","g":"RJW","x":4000,"y":4.18},{"s":"W13","g":"RJW","x":12000,"y":4.26},{"s":"W13","g":"RJW","x":39650,"y":4.30},
{"s":"W14","g":"RJW","x":0,"y":0},{"s":"W14","g":"RJW","x":60,"y":2.59},{"s":"W14","g":"RJW","x":370,"y":3.72},{"s":"W14","g":"RJW","x":1000,"y":3.91},{"s":"W14","g":"RJW","x":4000,"y":4.06},{"s":"W14","g":"RJW","x":12000,"y":4.14},{"s":"W14","g":"RJW","x":39650,"y":4.18}
]
},
"hconcat": [
{
  "title": {"text": "A", "font": "Liberation Serif", "fontSize": 97, "fontWeight": "bold", "anchor": "start", "frame": "bounds", "dx": -48, "offset": 16, "color": "#000"},
  "resolve": {"scale": {"color": "independent"}, "legend": {"color": "independent"}},
  "vconcat": [
    {
      "data": {"name": "rare"},
      "width": 1578,
      "height": 1308,
      "title": {"text": "Rarefaction curves", "font": "Liberation Sans", "fontSize": 44, "fontWeight": "bold", "anchor": "middle", "dx": 21, "offset": 54, "color": "#111"},
      "mark": {"type": "line", "interpolate": "monotone", "strokeWidth": 2.4, "opacity": 0.8},
      "encoding": {
        "x": {"field": "x", "type": "quantitative", "scale": {"domain": [0, 40000], "nice": false},
              "axis": {"values": [0, 5000, 10000, 15000, 20000, 25000, 30000, 35000, 40000], "format": ",.0f", "title": "Number of Reads Sampled", "titleFontSize": 40, "titleFontWeight": "bold", "labelFontSize": 31, "tickSize": 14, "labelPadding": 21, "titlePadding": 11, "labelFlush": false}},
        "y": {"field": "y", "type": "quantitative", "scale": {"domain": [0, 1600], "nice": false},
              "axis": {"values": [0, 200, 400, 600, 800, 1000, 1200, 1400, 1600], "format": ",.0f", "title": "Sobs index on OTU level", "titleFontSize": 44, "titleFontWeight": "normal", "labelFontSize": 29, "tickSize": 15, "labelPadding": 10, "titlePadding": 47}},
        "color": {"field": "g", "type": "nominal", "title": null, "scale": {"domain": ["CDLY", "RDLY", "CJW", "RJW"], "range": ["#F5634F", "#45C5E2", "#00A88F", "#3C5488"]}},
        "detail": {"field": "s", "type": "nominal"}
      }
    }
  ]
},
{
  "title": {"text": "B", "font": "Liberation Serif", "fontSize": 97, "fontWeight": "bold", "anchor": "start", "frame": "bounds", "dx": -14, "offset": 16, "color": "#000"},
  "resolve": {"scale": {"color": "independent"}, "legend": {"color": "independent"}},
  "vconcat": [
    {
      "data": {"name": "shan"},
      "width": 1665,
      "height": 1308,
      "title": {"text": "Shannon curves", "font": "Liberation Sans", "fontSize": 44, "fontWeight": "bold", "anchor": "middle", "dx": 29, "offset": 54, "color": "#111"},
      "mark": {"type": "line", "interpolate": "monotone", "strokeWidth": 2.4, "opacity": 0.8},
      "encoding": {
        "x": {"field": "x", "type": "quantitative", "scale": {"domain": [0, 40000], "nice": false},
              "axis": {"values": [0, 5000, 10000, 15000, 20000, 25000, 30000, 35000, 40000], "format": ",.0f", "title": "Number of Reads Sampled", "titleFontSize": 40, "titleFontWeight": "bold", "labelFontSize": 31, "tickSize": 14, "labelPadding": 21, "titlePadding": 11, "labelFlush": false}},
        "y": {"field": "y", "type": "quantitative", "scale": {"domain": [0, 6], "nice": false},
              "axis": {"values": [0, 0.5, 1, 1.5, 2, 2.5, 3, 3.5, 4, 4.5, 5, 5.5, 6], "format": ".1~f", "title": "Shannon index on OTU level", "titleFontSize": 44, "titleFontWeight": "normal", "labelFontSize": 29, "tickSize": 16, "labelPadding": 11, "titlePadding": 9}},
        "color": {"field": "g", "type": "nominal", "title": null, "scale": {"domain": ["CDLY", "RDLY", "CJW", "RJW"], "range": ["#F5634F", "#45C5E2", "#00A88F", "#3C5488"]}},
        "detail": {"field": "s", "type": "nominal"}
      }
    }
  ]
}
]
}
